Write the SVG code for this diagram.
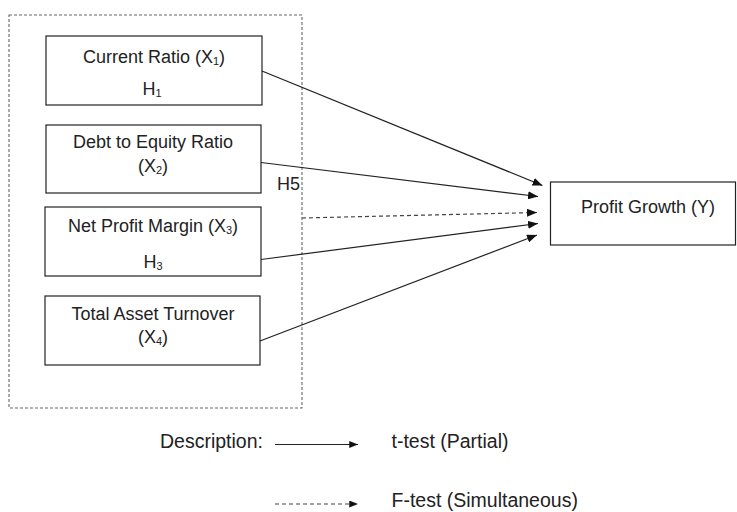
<svg xmlns="http://www.w3.org/2000/svg" width="737" height="512" viewBox="0 0 737 512">
<defs>
<style>
.box{fill:#fff;stroke:#222;stroke-width:1.2}
.t{font-family:"Liberation Sans",Arial,sans-serif;font-size:18px;fill:#222;text-anchor:middle}
.lg{font-family:"Liberation Sans",Arial,sans-serif;font-size:19.5px;fill:#222}
.sub{font-size:11px}
.ln{stroke:#222;stroke-width:1.2;fill:none}
.dash{stroke:#444;stroke-width:1.2;fill:none;stroke-dasharray:4 3}
.frame{stroke:#666;stroke-width:1.1;fill:none;stroke-dasharray:3 2}
</style>
<marker id="ah" viewBox="0 0 10 8" refX="10" refY="4" markerWidth="10" markerHeight="8" markerUnits="userSpaceOnUse" orient="auto">
<path d="M0,0 L10,4 L0,8 z" fill="#111"/>
</marker>
<marker id="ahs" viewBox="0 0 10 8" refX="10" refY="4" markerWidth="9" markerHeight="7" markerUnits="userSpaceOnUse" orient="auto">
<path d="M0,0 L10,4 L0,8 z" fill="#111"/>
</marker>
</defs>
<rect width="737" height="512" fill="#fff"/>
<rect id="frame" class="frame" x="9" y="15" width="293" height="393"/>
<g id="x1">
<rect class="box" x="46" y="36" width="216" height="69"/>
<text class="t" x="154" y="62.5">Current Ratio (X<tspan class="sub" dy="2">1</tspan><tspan dy="-2">)</tspan></text>
<text class="t" x="152" y="95">H<tspan class="sub" dy="2">1</tspan></text>
</g>
<g id="x2">
<rect class="box" x="46" y="125" width="215" height="68"/>
<text class="t" x="153" y="148">Debt to Equity Ratio</text>
<text class="t" x="153" y="172">(X<tspan class="sub" dy="2">2</tspan><tspan dy="-2">)</tspan></text>
</g>
<g id="x3">
<rect class="box" x="45" y="207" width="216" height="69"/>
<text class="t" x="153" y="231.5">Net Profit Margin (X<tspan class="sub" dy="2">3</tspan><tspan dy="-2">)</tspan></text>
<text class="t" x="153" y="268">H<tspan class="sub" dy="2">3</tspan></text>
</g>
<g id="x4">
<rect class="box" x="45" y="296" width="215" height="69"/>
<text class="t" x="153" y="319.5">Total Asset Turnover</text>
<text class="t" x="153" y="343">(X<tspan class="sub" dy="2">4</tspan><tspan dy="-2">)</tspan></text>
</g>
<g id="y">
<rect class="box" x="550.5" y="182" width="185" height="63"/>
<text class="t" x="648" y="213">Profit Growth (Y)</text>
</g>
<text class="t" x="288.5" y="190">H5</text>
<g id="connectors">
<line class="ln" x1="262" y1="71" x2="542.5" y2="185.5" marker-end="url(#ah)"/>
<line class="ln" x1="261" y1="162.5" x2="538" y2="196.5" marker-end="url(#ah)"/>
<line class="dash" x1="302" y1="218" x2="537" y2="212.5" marker-end="url(#ah)"/>
<line class="ln" x1="261" y1="259.5" x2="538" y2="223.5" marker-end="url(#ah)"/>
<line class="ln" x1="260" y1="341" x2="537" y2="235" marker-end="url(#ah)"/>
</g>
<g id="legend">
<text class="lg" x="160" y="447.5">Description:</text>
<line class="ln" x1="275" y1="444.5" x2="358" y2="444.5" marker-end="url(#ahs)"/>
<text class="lg" x="391.5" y="447.5">t-test (Partial)</text>
<line class="dash" x1="275" y1="504" x2="358" y2="504" marker-end="url(#ahs)"/>
<text class="lg" x="391.5" y="506.5">F-test (Simultaneous)</text>
</g>
</svg>
